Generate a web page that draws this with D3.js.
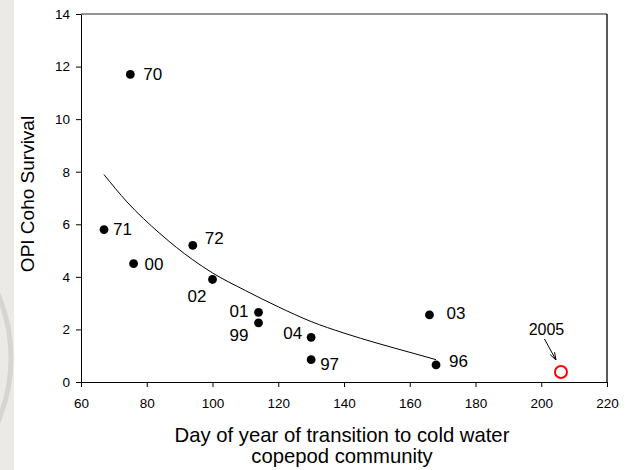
<!DOCTYPE html>
<html>
<head>
<meta charset="utf-8">
<script src="https://cdn.jsdelivr.net/npm/d3@7"></script>
<style>
  html, body { margin: 0; padding: 0; background: #fff; }
  svg { display: block; font-family: "Liberation Sans", Arial, sans-serif; }
  .tick text { font-size: 13.5px; fill: #000; }
  .data-label { font-size: 17px; fill: #000; }
  .axis-title { font-size: 19px; fill: #000; }
  .x-title { font-size: 20.3px; }
</style>
</head>
<body>
<div id="chart"></div>
<script>
// observed years (labels), transition day and OPI coho survival
const yearLabels = ["70", "71", "00", "72", "02", "01", "99", "04", "97", "03", "96"];
const transitionDay = [75, 67, 76, 94, 100, 114, 114, 130, 130, 166, 168];
const cohoSurvival = [11.7, 5.8, 4.5, 5.2, 3.9, 2.65, 2.25, 1.7, 0.85, 2.55, 0.65];

// 2005 point (open red circle)
const highlightLabel = "2005";
const highlightDay = 206;
const highlightSurvival = 0.38;

// fitted curve
const fitDay = [67, 74, 84, 94, 100, 110, 120, 130, 140, 150, 160, 168];
const fitSurvival = [7.89, 6.85, 5.65, 4.65, 4.15, 3.48, 2.86, 2.30, 1.86, 1.48, 1.13, 0.85];

const xTicks = [60, 80, 100, 120, 140, 160, 180, 200, 220];
const yTicks = [0, 2, 4, 6, 8, 10, 12, 14];

// label placement around each dot: [dx, dy, anchor]
const labelPlace = {
  "70": [13, 6, "start"],
  "71": [9, 5, "start"],
  "00": [11, 6, "start"],
  "72": [12, -1, "start"],
  "02": [-6, 23, "end"],
  "01": [-10, 5, "end"],
  "99": [-10, 18, "end"],
  "04": [-9, 2, "end"],
  "97": [9, 10, "start"],
  "03": [17, 4, "start"],
  "96": [13, 2, "start"]
};

const width = 630, height = 470;
const plot = { left: 81, right: 607, top: 14, bottom: 382 };

const svg = d3.select("#chart").append("svg")
  .attr("width", width)
  .attr("height", height);

// grey strip + faint watermark ring on the left edge
svg.append("rect")
  .attr("x", 0).attr("y", 0)
  .attr("width", 14).attr("height", height)
  .attr("fill", "#ebeae6");
svg.append("circle")
  .attr("cx", -152).attr("cy", 358).attr("r", 163)
  .attr("fill", "none")
  .attr("stroke", "#d5d5d2")
  .attr("stroke-width", 5);

const x = d3.scaleLinear().domain([60, 220]).range([plot.left, plot.right]);
const y = d3.scaleLinear().domain([0, 14]).range([plot.bottom, plot.top]);

// frame: grey top, black right
svg.append("line")
  .attr("x1", plot.left).attr("x2", plot.right)
  .attr("y1", plot.top).attr("y2", plot.top)
  .attr("stroke", "#707070").attr("stroke-width", 1.7);
svg.append("line")
  .attr("x1", plot.right).attr("x2", plot.right)
  .attr("y1", plot.top).attr("y2", plot.bottom)
  .attr("stroke", "#000").attr("stroke-width", 1.3);

svg.append("g")
  .attr("transform", `translate(0,${plot.bottom})`)
  .call(d3.axisBottom(x).tickValues(xTicks).tickSize(5).tickSizeOuter(0).tickPadding(11))
  .call(g => g.select(".domain").attr("stroke", "#000"))
  .call(g => g.selectAll(".tick line").attr("stroke", "#000"))
  .call(g => g.selectAll(".tick text").attr("font-family", null).attr("font-size", null));

svg.append("g")
  .attr("transform", `translate(${plot.left},0)`)
  .call(d3.axisLeft(y).tickValues(yTicks).tickSize(5).tickSizeOuter(0).tickPadding(6))
  .call(g => g.select(".domain").attr("stroke", "#000"))
  .call(g => g.selectAll(".tick line").attr("stroke", "#000"))
  .call(g => g.selectAll(".tick text").attr("font-family", null).attr("font-size", null));

// fitted curve
const fitPoints = fitDay.map((d, i) => [d, fitSurvival[i]]);
svg.append("path")
  .datum(fitPoints)
  .attr("fill", "none")
  .attr("stroke", "#000")
  .attr("stroke-width", 1)
  .attr("d", d3.line()
    .x(d => x(d[0]))
    .y(d => y(d[1]))
    .curve(d3.curveMonotoneX));

// observed points
const points = yearLabels.map((label, i) => ({
  label,
  day: transitionDay[i],
  value: cohoSurvival[i]
}));

svg.append("g")
  .selectAll("circle")
  .data(points)
  .join("circle")
  .attr("cx", d => x(d.day))
  .attr("cy", d => y(d.value))
  .attr("r", 4.4)
  .attr("fill", "#000");

svg.append("g")
  .selectAll("text")
  .data(points)
  .join("text")
  .attr("class", "data-label")
  .attr("x", d => x(d.day) + labelPlace[d.label][0])
  .attr("y", d => y(d.value) + labelPlace[d.label][1])
  .attr("text-anchor", d => labelPlace[d.label][2])
  .text(d => d.label);

// 2005 highlight with arrow
const hx = x(highlightDay), hy = y(highlightSurvival);
svg.append("circle")
  .attr("cx", hx).attr("cy", hy).attr("r", 6)
  .attr("fill", "none")
  .attr("stroke", "#ff0000")
  .attr("stroke-width", 2);

svg.append("text")
  .attr("class", "data-label")
  .attr("x", hx - 14.5)
  .attr("y", hy - 37)
  .attr("text-anchor", "middle")
  .style("font-size", "16px")
  .text(highlightLabel);

const ax1 = hx - 16.5, ay1 = hy - 33, ax2 = hx - 5, ay2 = hy - 12;
svg.append("line")
  .attr("x1", ax1).attr("y1", ay1)
  .attr("x2", ax2).attr("y2", ay2)
  .attr("stroke", "#000").attr("stroke-width", 1);
const ang = Math.atan2(ay2 - ay1, ax2 - ax1);
const headLen = 8, spread = 0.32;
svg.append("path")
  .attr("d", d3.line()([
    [ax2 - headLen * Math.cos(ang - spread), ay2 - headLen * Math.sin(ang - spread)],
    [ax2, ay2],
    [ax2 - headLen * Math.cos(ang + spread), ay2 - headLen * Math.sin(ang + spread)]
  ]))
  .attr("fill", "none")
  .attr("stroke", "#000")
  .attr("stroke-width", 1);

// axis titles
svg.append("text")
  .attr("class", "axis-title")
  .attr("transform", `translate(34,194) rotate(-90)`)
  .attr("text-anchor", "middle")
  .text("OPI Coho Survival");

const xTitle = svg.append("text")
  .attr("class", "axis-title x-title")
  .attr("text-anchor", "middle");
xTitle.append("tspan")
  .attr("x", 342).attr("y", 441.5)
  .text("Day of year of transition to cold water");
xTitle.append("tspan")
  .attr("x", 342).attr("y", 463)
  .text("copepod community");
</script>
</body>
</html>
